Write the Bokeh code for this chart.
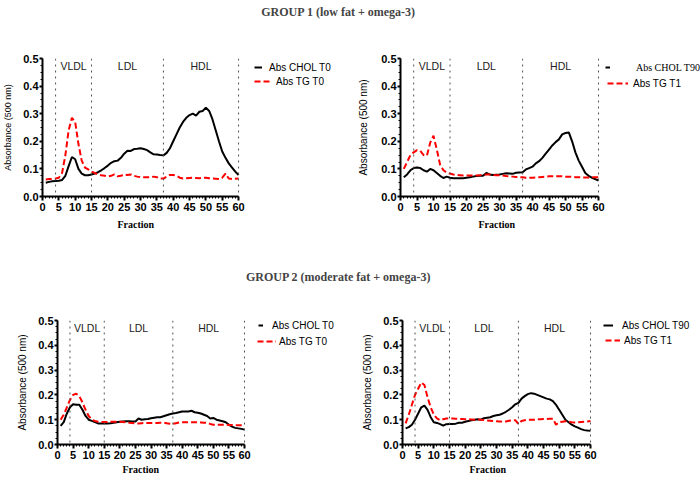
from bokeh.plotting import figure
from bokeh.models import (Span, Legend, LegendItem, SingleIntervalTicker,
                          NumeralTickFormatter, Title, Range1d)
from bokeh.layouts import column, row
from bokeh.embed import file_html
from bokeh.resources import INLINE
from bokeh.core.properties import value

fraction = list(range(1, 61))

g1_chol_t0 = [0.050, 0.053, 0.055, 0.056, 0.057, 0.060, 0.075, 0.110, 0.143, 0.135,
              0.100, 0.083, 0.077, 0.077, 0.080, 0.083, 0.088, 0.095, 0.103, 0.112,
              0.122, 0.128, 0.130, 0.140, 0.155, 0.166, 0.165, 0.172, 0.173, 0.175,
              0.172, 0.168, 0.160, 0.153, 0.152, 0.150, 0.149, 0.158, 0.175, 0.200,
              0.225, 0.250, 0.270, 0.285, 0.295, 0.300, 0.293, 0.307, 0.310, 0.322,
              0.310, 0.280, 0.240, 0.200, 0.163, 0.140, 0.120, 0.105, 0.090, 0.078]
g1_tg_t0 = [0.062, 0.063, 0.064, 0.065, 0.068, 0.085, 0.150, 0.240, 0.285, 0.270,
            0.190, 0.130, 0.105, 0.098, 0.090, 0.085, 0.080, 0.077, 0.075, 0.073,
            0.075, 0.080, 0.073, 0.075, 0.080, 0.078, 0.080, 0.075, 0.072, 0.070,
            0.070, 0.070, 0.070, 0.072, 0.070, 0.065, 0.065, 0.072, 0.078, 0.078,
            0.075, 0.068, 0.065, 0.066, 0.067, 0.068, 0.067, 0.066, 0.068, 0.068,
            0.066, 0.065, 0.064, 0.063, 0.068, 0.083, 0.065, 0.063, 0.064, 0.065]
g1_chol_t90 = [0.070, 0.080, 0.095, 0.103, 0.105, 0.103, 0.095, 0.090, 0.100, 0.095,
               0.085, 0.075, 0.067, 0.072, 0.068, 0.066, 0.066, 0.066, 0.066, 0.068,
               0.070, 0.072, 0.074, 0.075, 0.075, 0.085, 0.080, 0.078, 0.079, 0.080,
               0.082, 0.084, 0.083, 0.082, 0.086, 0.087, 0.088, 0.098, 0.103, 0.108,
               0.120, 0.128, 0.140, 0.155, 0.170, 0.185, 0.197, 0.207, 0.225, 0.230,
               0.232, 0.200, 0.160, 0.130, 0.108, 0.085, 0.075, 0.068, 0.063, 0.058]
g1_tg_t1 = [0.100, 0.125, 0.150, 0.160, 0.168, 0.165, 0.150, 0.148, 0.195, 0.220,
            0.170, 0.115, 0.095, 0.087, 0.083, 0.080, 0.078, 0.077, 0.076, 0.076,
            0.076, 0.076, 0.076, 0.077, 0.078, 0.080, 0.080, 0.078, 0.077, 0.077,
            0.076, 0.074, 0.073, 0.072, 0.071, 0.070, 0.070, 0.068, 0.068, 0.068,
            0.069, 0.070, 0.071, 0.072, 0.073, 0.073, 0.073, 0.073, 0.073, 0.072,
            0.072, 0.071, 0.070, 0.070, 0.069, 0.069, 0.069, 0.070, 0.070, 0.070]
g2_chol_t0 = [0.075, 0.090, 0.125, 0.150, 0.162, 0.160, 0.160, 0.140, 0.115, 0.100,
              0.095, 0.090, 0.085, 0.085, 0.085, 0.085, 0.086, 0.088, 0.090, 0.092,
              0.093, 0.094, 0.094, 0.093, 0.093, 0.105, 0.100, 0.102, 0.103, 0.106,
              0.108, 0.110, 0.110, 0.114, 0.118, 0.122, 0.125, 0.127, 0.130, 0.133,
              0.133, 0.133, 0.136, 0.130, 0.128, 0.125, 0.120, 0.115, 0.105, 0.107,
              0.100, 0.097, 0.094, 0.090, 0.080, 0.072, 0.067, 0.065, 0.063, 0.060]
g2_tg_t0 = [0.100, 0.120, 0.150, 0.180, 0.200, 0.205, 0.195, 0.170, 0.140, 0.115,
            0.100, 0.095, 0.092, 0.091, 0.091, 0.091, 0.092, 0.092, 0.092, 0.092,
            0.091, 0.090, 0.088, 0.087, 0.085, 0.085, 0.086, 0.087, 0.087, 0.087,
            0.087, 0.087, 0.088, 0.088, 0.086, 0.084, 0.083, 0.086, 0.089, 0.090,
            0.090, 0.090, 0.090, 0.090, 0.090, 0.089, 0.088, 0.087, 0.083, 0.080,
            0.080, 0.080, 0.080, 0.080, 0.079, 0.079, 0.078, 0.078, 0.078, 0.078]
g2_chol_t90 = [0.065, 0.070, 0.080, 0.100, 0.125, 0.150, 0.157, 0.140, 0.110, 0.090,
               0.087, 0.082, 0.076, 0.082, 0.083, 0.083, 0.084, 0.088, 0.088, 0.092,
               0.095, 0.098, 0.100, 0.102, 0.100, 0.106, 0.108, 0.110, 0.115, 0.118,
               0.120, 0.125, 0.132, 0.140, 0.150, 0.162, 0.168, 0.185, 0.195, 0.203,
               0.207, 0.205, 0.200, 0.195, 0.190, 0.185, 0.182, 0.175, 0.160, 0.140,
               0.120, 0.100, 0.090, 0.080, 0.073, 0.068, 0.062, 0.058, 0.056, 0.055]
g2_tg_t1 = [0.085, 0.120, 0.160, 0.200, 0.225, 0.250, 0.240, 0.190, 0.150, 0.120,
            0.105, 0.098, 0.102, 0.105, 0.105, 0.105, 0.104, 0.103, 0.103, 0.102,
            0.102, 0.101, 0.100, 0.101, 0.100, 0.099, 0.097, 0.096, 0.095, 0.094,
            0.093, 0.092, 0.093, 0.096, 0.098, 0.098, 0.083, 0.095, 0.098, 0.100,
            0.100, 0.100, 0.102, 0.102, 0.103, 0.103, 0.104, 0.104, 0.080, 0.090,
            0.092, 0.094, 0.092, 0.090, 0.089, 0.090, 0.091, 0.092, 0.093, 0.095]

x_min, x_max = 0, 60
y_min, y_max = 0, 0.5
boundaries = [4, 15, 37, 60]
region_names = ["VLDL", "LDL", "HDL"]
region_x = [(boundaries[i] + boundaries[i + 1]) / 2 for i in range(3)]

SANS = "Liberation Sans"
SERIF = "Liberation Serif"


def panel(width, height, left, right, top, bottom, plot_w, chol, tg,
          ylab_size, ylab_standoff, frac_offset, frac_standoff):
    frame_w = width - left - right
    # the frame is wider than the 0-60 axis so that the legend can sit inside it
    x_end = x_max * frame_w / plot_w
    p = figure(width=width, height=height, toolbar_location=None, output_backend="svg",
               min_border_left=left, min_border_right=right,
               min_border_top=top, min_border_bottom=bottom,
               x_range=Range1d(x_min, x_end), y_range=Range1d(y_min, y_max),
               outline_line_color=None)
    p.grid.visible = False
    p.xaxis.ticker = SingleIntervalTicker(interval=5, num_minor_ticks=5)
    p.yaxis.ticker = SingleIntervalTicker(interval=0.1, num_minor_ticks=4)
    p.yaxis.formatter = NumeralTickFormatter(format="0.0")
    p.xaxis.bounds = (x_min, x_max)
    for ax in p.axis:
        ax.axis_line_width = 2
        ax.axis_line_color = "black"
        ax.major_tick_line_width = 2
        ax.minor_tick_line_width = 1
        ax.major_tick_in = 0
        ax.minor_tick_in = 0
        ax.major_label_text_font = SANS
        ax.major_label_text_font_style = "bold"
        ax.major_label_text_font_size = "11px"
        ax.major_label_text_color = "black"
    p.xaxis.major_tick_out = 4
    p.xaxis.minor_tick_out = 2
    p.xaxis.major_label_standoff = 2
    p.yaxis.major_tick_out = 3
    p.yaxis.minor_tick_out = 2
    p.yaxis.major_label_standoff = 1
    p.yaxis.axis_label = "Absorbance (500 nm)"
    p.yaxis.axis_label_text_font = SANS
    p.yaxis.axis_label_text_font_style = "normal"
    p.yaxis.axis_label_text_font_size = ylab_size
    p.yaxis.axis_label_text_color = "black"
    p.yaxis.axis_label_standoff = ylab_standoff
    # x-axis title, placed under the 0-60 part of the axis
    p.add_layout(Title(text="Fraction", align="left", offset=frac_offset,
                       standoff=frac_standoff, text_font=SERIF,
                       text_font_style="bold", text_font_size="10px",
                       text_color="black"), "below")

    for b in boundaries:
        p.add_layout(Span(location=b, dimension="height", line_color="#555555",
                          line_width=1, line_dash="dotted"))
    p.text(x=region_x, y=[y_max] * 3, text=region_names, text_align="center",
           text_baseline="top", y_offset=1, text_font=value(SANS),
           text_font_size="10.5px", text_color="#222222")
    rc = p.line(fraction, chol, line_color="black", line_width=2)
    rt = p.line(fraction, tg, line_color="#ff0000", line_width=2, line_dash="6 3")
    return p, rc, rt


def add_item(p, r, label, vx, vy, gw, standoff, font=SANS):
    lg = Legend(items=[LegendItem(label=label, renderers=[r])], location=(vx, vy),
                glyph_width=gw, glyph_height=12, label_height=12, label_width=10,
                label_standoff=standoff, padding=0, margin=0, spacing=0,
                border_line_color=None, background_fill_alpha=0,
                label_text_font=font, label_text_font_size="10px",
                label_text_color="black")
    p.add_layout(lg, "center")


def title_fig(text, height, top):
    t = figure(width=700, height=height, toolbar_location=None, output_backend="svg",
               min_border_left=0, min_border_right=24, min_border_top=top,
               min_border_bottom=0, x_axis_location=None, y_axis_location=None,
               outline_line_color=None)
    t.grid.visible = False
    t.title = Title(text=text, align="center", text_font=SERIF,
                    text_font_size="12px", text_font_style="bold", standoff=0)
    return t


# top row frames: page y 58..196 ; bottom row: 320..448 (left), 317..444 (right)
p1, c1, t1 = panel(350, 215, 39, 4, 28, 49, 198, g1_chol_t0, g1_tg_t0, "9px", 7, 75, 6)
add_item(p1, c1, "Abs CHOL T0", 212, 123, 8, 7)
add_item(p1, t1, "Abs TG T0", 212, 109, 17, 5)

p2, c2, t2 = panel(350, 215, 50, 0, 28, 49, 198, g1_chol_t90, g1_tg_t1, "10px", 9, 78, 6)
add_item(p2, c2, "Abs CHOL T90", 205, 123, 5, 26, font=SERIF)
add_item(p2, t2, "Abs TG T1", 207, 107, 21, 5)

p3, c3, t3 = panel(350, 179, 57, 4, 20, 31, 187, g2_chol_t0, g2_tg_t0, "10px", 7, 65, 0)
add_item(p3, c3, "Abs CHOL T0", 201, 113, 5, 9)
add_item(p3, t3, "Abs TG T0", 200, 97, 19, 3)

p4, c4, t4 = panel(350, 179, 52, 0, 17, 35, 188, g2_chol_t90, g2_tg_t1, "10px", 7, 67, 0)
add_item(p4, c4, "Abs CHOL T90", 201, 113, 10, 9)
add_item(p4, t4, "Abs TG T1", 203, 98, 15, 4)

head1 = title_fig("GROUP 1 (low fat + omega-3)", 30, 18)
head2 = title_fig("GROUP 2 (moderate fat + omega-3)", 55, 38)

layout = column(head1, row(p1, p2), head2, row(p3, p4))

open("out.html", "w").write(file_html(layout, INLINE))
